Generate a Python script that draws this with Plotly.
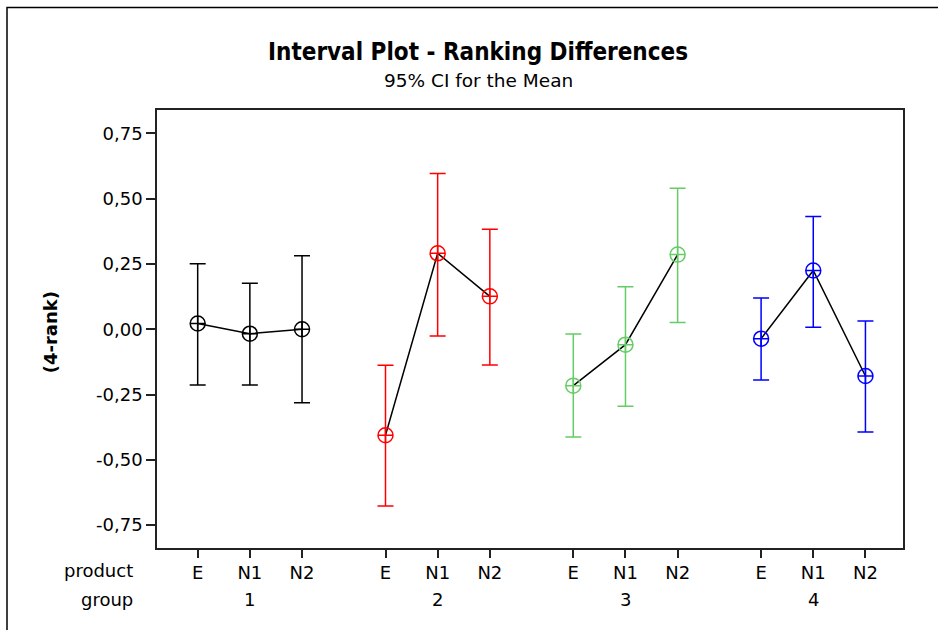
import plotly.graph_objects as go

# Ranking differences (4 - rank): mean and 95% CI per group / product
groups = ["1", "2", "3", "4"]
products = ["E", "N1", "N2"]
group_colors = ["#000000", "#FF0000", "#66CC66", "#0000FF"]

means = [
    [0.022, -0.017, 0.000],
    [-0.406, 0.291, 0.126],
    [-0.216, -0.059, 0.286],
    [-0.036, 0.225, -0.179],
]
lower = [
    [-0.214, -0.214, -0.282],
    [-0.677, -0.026, -0.137],
    [-0.413, -0.295, 0.026],
    [-0.194, 0.008, -0.394],
]
upper = [
    [0.251, 0.176, 0.282],
    [-0.138, 0.597, 0.383],
    [-0.018, 0.163, 0.540],
    [0.120, 0.432, 0.032],
]

y_ticks = [-0.75, -0.50, -0.25, 0.00, 0.25, 0.50, 0.75]

FONT = "DejaVu Sans, sans-serif"
FONT_TITLE = "DejaVu Sans Condensed, DejaVu Sans, sans-serif"
GROUP_STEP = len(products) + 0.6  # spacing between product blocks

# page layout (pixels)
W, H = 938, 630
L, R, T, B = 157, 35, 109.5, 82
pw, ph = W - L - R, H - T - B


def page_x(px):
    return (px - L) / pw


def page_y(py):
    return (H - B - py) / ph


fig = go.Figure()

tickvals, ticktext = [], []
for gi, g in enumerate(groups):
    xs = [gi * GROUP_STEP + pi for pi in range(len(products))]
    tickvals += xs
    ticktext += products
    m = means[gi]
    up = [u - v for u, v in zip(upper[gi], m)]
    dn = [v - l for v, l in zip(m, lower[gi])]
    # connecting line between the means
    fig.add_trace(go.Scatter(
        x=xs, y=m, mode="lines",
        line=dict(color="#000000", width=1.5),
        hoverinfo="skip", showlegend=False,
    ))
    # interval bars and mean symbols
    fig.add_trace(go.Scatter(
        x=xs, y=m, mode="markers",
        marker=dict(symbol="circle-cross-open", size=15,
                    color=group_colors[gi], line=dict(width=1.5, color=group_colors[gi])),
        error_y=dict(type="data", symmetric=False, array=up, arrayminus=dn,
                     color=group_colors[gi], thickness=1.5, width=8),
        showlegend=False, name="Group " + g,
    ))

label_font = dict(family=FONT, size=18, color="#000")
annotations = []
for gi, g in enumerate(groups):
    annotations.append(dict(
        x=gi * GROUP_STEP + 1, y=page_y(600), xref="x", yref="paper",
        yanchor="middle", text=g, showarrow=False, font=label_font,
    ))
annotations += [
    dict(x=page_x(135), y=page_y(571), xref="paper", yref="paper",
         xanchor="right", yanchor="middle",
         text="product", showarrow=False, font=label_font),
    dict(x=page_x(135), y=page_y(600), xref="paper", yref="paper",
         xanchor="right", yanchor="middle",
         text="group", showarrow=False, font=label_font),
    dict(x=page_x(478), y=page_y(51), xref="paper", yref="paper",
         xanchor="center", yanchor="middle",
         text="<b>Interval Plot - Ranking Differences</b>", showarrow=False,
         font=dict(family=FONT_TITLE, size=24, color="#000")),
    dict(x=page_x(478), y=page_y(80), xref="paper", yref="paper",
         xanchor="center", yanchor="middle",
         text="95% CI for the Mean", showarrow=False,
         font=dict(family=FONT, size=18.5, color="#000")),
    dict(x=page_x(50), y=page_y(332), xref="paper", yref="paper",
         xanchor="center", yanchor="middle", textangle=-90,
         text="<b>(4-rank)</b>", showarrow=False,
         font=dict(family=FONT, size=18, color="#000")),
]

fig.update_layout(
    width=W, height=H,
    margin=dict(l=L, r=R, t=T, b=B),
    paper_bgcolor="white", plot_bgcolor="white",
    font=label_font,
    annotations=annotations,
    shapes=[dict(
        type="path", xref="paper", yref="paper",
        path=(f"M {page_x(7)} {page_y(H + 20)} "
              f"L {page_x(7)} {page_y(7)} "
              f"L {page_x(W + 10)} {page_y(7)}"),
        line=dict(color="#000", width=1.5),
    )],
    xaxis=dict(
        range=[-0.78, 3 * GROUP_STEP + 2.72],
        tickvals=tickvals, ticktext=ticktext,
        showgrid=False, zeroline=False,
        showline=True, linecolor="#222", linewidth=1.5, mirror=True,
        ticks="outside", ticklen=8, tickwidth=1.5, tickcolor="#222",
        tickfont=label_font,
    ),
    yaxis=dict(
        range=[-0.838, 0.840],
        tickvals=y_ticks, ticktext=[f"{v:.2f}".replace(".", ",") for v in y_ticks],
        showgrid=False, zeroline=False,
        showline=True, linecolor="#222", linewidth=1.5, mirror=True,
        ticks="outside", ticklen=9, tickwidth=1.5, tickcolor="#222",
        tickfont=label_font,
    ),
)

fig.write_html("out.html")
